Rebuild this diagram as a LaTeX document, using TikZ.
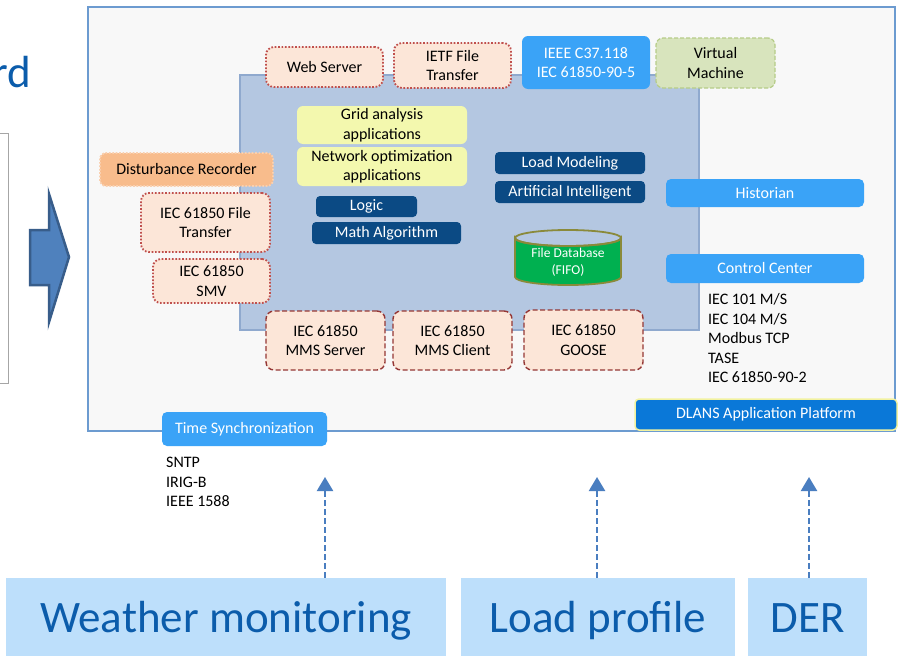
\documentclass[tikz,border=0pt]{standalone}
\usepackage{fontspec}
\setmainfont{Carlito}
\usetikzlibrary{arrows.meta}
\definecolor{outerfill}{HTML}{F8F8F8}
\definecolor{outerline}{HTML}{6C9BD0}
\definecolor{innerfill}{HTML}{B4C7E1}
\definecolor{innerline}{HTML}{8FA9CE}
\definecolor{peachc}{HTML}{FCE6D8}
\definecolor{dotred}{HTML}{C0504D}
\definecolor{darkred}{HTML}{953735}
\definecolor{distfill}{HTML}{F8BC8C}
\definecolor{distline}{HTML}{F9D0B0}
\definecolor{brightblue}{HTML}{3AA3F7}
\definecolor{darkblue}{HTML}{0B4A84}
\definecolor{yellowc}{HTML}{F3F8AE}
\definecolor{vmfill}{HTML}{D8E4BD}
\definecolor{vmline}{HTML}{B6CC88}
\definecolor{dbgreen}{HTML}{00B050}
\definecolor{dbline}{HTML}{8A8A3A}
\definecolor{dlansfill}{HTML}{0A78D8}
\definecolor{dlansline}{HTML}{F2F2A0}
\definecolor{lightbl}{HTML}{BDDFFB}
\definecolor{bottomtxt}{HTML}{0B5CAB}
\definecolor{arrowblue}{HTML}{4A7EC0}
\definecolor{blockfill}{HTML}{4F81BD}
\definecolor{blockline}{HTML}{385D8A}
\begin{document}
\begin{tikzpicture}[x=1pt,y=-1pt,
  base/.style={font=\fontsize{16}{19.5}\selectfont, align=center, inner sep=0pt},
  peach/.style={base, rounded corners=8pt, fill=peachc, draw=dotred, line width=1.8pt, dash pattern=on 1.7pt off 1.7pt},
  mms/.style={base, rounded corners=8pt, fill=peachc, draw=darkred, line width=1.4pt, dash pattern=on 5pt off 2.5pt},
  bblue/.style={base, rounded corners=6pt, fill=brightblue, text=white},
  dblue/.style={base, rounded corners=4pt, fill=darkblue, text=white},
  yel/.style={base, rounded corners=6pt, fill=yellowc},
  bottombox/.style={inner sep=0pt, fill=lightbl, text=bottomtxt, font=\fontsize{45}{54}\selectfont, text height=29pt, text depth=0pt},
  uparrow/.style={draw=arrowblue, line width=2.2pt, dash pattern=on 6pt off 3pt, -{Triangle[width=16pt,length=14pt,fill=arrowblue]}},
  listtext/.style={font=\fontsize{16}{19.5}\selectfont, inner sep=0pt, anchor=base west}
]
\useasboundingbox (0,0) rectangle (903,656);
\fill[white] (0,0) rectangle (903,656);

% left fragments
\node[anchor=base east, inner sep=0pt, text=bottomtxt, font=\fontsize{45}{54}\selectfont] (title) at (31,87) {rd};
\draw[draw=gray!70, line width=0.8pt] (-5,133) rectangle (8,383);
\draw[fill=blockfill, draw=blockline, line width=2.5pt, line join=miter]
  (30,230) -- (49,230) -- (49,194) -- (69,257) -- (49,322) -- (49,285) -- (30,285) -- cycle;

% platform
\node[draw=outerline, fill=outerfill, line width=1.8pt, minimum width=807pt, minimum height=424pt, inner sep=0pt] (platform) at (491.5,219) {};
\node[draw=innerline, fill=innerfill, line width=1.2pt, minimum width=459pt, minimum height=255pt, inner sep=0pt] (core) at (469.5,202.5) {};

% top boxes
\node[peach, minimum width=117pt, minimum height=40pt] (web) at (324.5,67) {Web Server};
\node[peach, minimum width=117pt, minimum height=45pt] (ietf) at (452.5,65.5) {IETF File\\Transfer};
\node[bblue, minimum width=128pt, minimum height=53pt] (ieee) at (586,62.5) {IEEE C37.118\\IEC 61850-90-5};
\node[base, rounded corners=7pt, fill=vmfill, draw=vmline, line width=1.2pt, dash pattern=on 4pt off 2pt, minimum width=119pt, minimum height=50pt] (vm) at (715.5,63) {Virtual\\Machine};

% applications
\node[yel, minimum width=170pt, minimum height=38pt] (grid) at (382,125) {Grid analysis\\applications};
\node[yel, minimum width=170pt, minimum height=39pt] (netopt) at (382,166.5) {Network optimization\\applications};
\node[base, rounded corners=6pt, fill=distfill, draw=distline, line width=1.8pt, dash pattern=on 1.7pt off 1.7pt, minimum width=173pt, minimum height=33pt] (dist) at (186.5,169.5) {Disturbance Recorder};
\node[dblue, minimum width=150pt, minimum height=22pt] (loadmod) at (570,163) {Load Modeling};
\node[dblue, minimum width=150pt, minimum height=22pt] (ai) at (570,192) {Artificial Intelligent};
\node[bblue, rounded corners=5pt, minimum width=198pt, minimum height=28pt] (hist) at (765,193) {Historian};
\node[dblue, minimum width=101pt, minimum height=21pt] (logic) at (366.5,206.5) {Logic};
\node[dblue, minimum width=149pt, minimum height=22pt] (math) at (386.5,233) {Math Algorithm};
\node[peach, minimum width=129pt, minimum height=59pt] (iecft) at (205.5,222.5) {IEC 61850 File\\Transfer};
\node[peach, minimum width=117pt, minimum height=44pt] (smv) at (211.5,281) {IEC 61850\\SMV};

% database cylinder
\path[fill=dbgreen, draw=dbline, line width=1.8pt]
  (515,238) -- (515,277) arc (180:0:53 and 8) -- (621,238) arc (0:180:53 and 8) -- cycle;
\draw[draw=dbline, line width=1.8pt] (568,238) ellipse (53 and 8);
\node[inner sep=0pt, align=center, text=white, font=\fontsize{13.5}{16.5}\selectfont] (db) at (568,262) {File Database\\(FIFO)};

\node[bblue, rounded corners=5pt, minimum width=198pt, minimum height=29pt] (cc) at (765,268.5) {Control Center};
\node[listtext] (proto) at (708,304.5) {\begin{tabular}[t]{@{}l@{}}IEC 101 M/S\\IEC 104 M/S\\Modbus TCP\\TASE\\IEC 61850-90-2\end{tabular}};

% bottom protocol boxes
\node[mms, minimum width=119pt, minimum height=59pt] (mmss) at (325.5,340.5) {IEC 61850\\MMS Server};
\node[mms, minimum width=119pt, minimum height=59pt] (mmsc) at (452.5,340.5) {IEC 61850\\MMS Client};
\node[mms, minimum width=119pt, minimum height=60pt] (goose) at (583.5,340) {IEC 61850\\GOOSE};

\node[base, rounded corners=4pt, fill=dlansfill, draw=dlansline, line width=1.5pt, text=white, minimum width=262pt, minimum height=31pt] (dlans) at (766,414.5) {DLANS Application Platform};
\node[bblue, rounded corners=5pt, minimum width=165pt, minimum height=34pt] (ts) at (244.5,429) {Time Synchronization};
\node[listtext] (sync) at (166,467.5) {\begin{tabular}[t]{@{}l@{}}SNTP\\IRIG-B\\IEEE 1588\end{tabular}};

% external sources
\node[bottombox, minimum width=440pt, minimum height=80pt] (weather) at (226,618) {Weather monitoring};
\node[bottombox, minimum width=274pt, minimum height=80pt] (loadp) at (598,618) {Load profile};
\node[bottombox, minimum width=119pt, minimum height=80pt] (der) at (807.5,618) {DER};

\coordinate (t1) at (325,477);
\coordinate (t2) at (597,477);
\coordinate (t3) at (809,477);
\draw[uparrow] (t1 |- weather.north) -- (t1);
\draw[uparrow] (t2 |- loadp.north) -- (t2);
\draw[uparrow] (t3 |- der.north) -- (t3);
\end{tikzpicture}
\end{document}
